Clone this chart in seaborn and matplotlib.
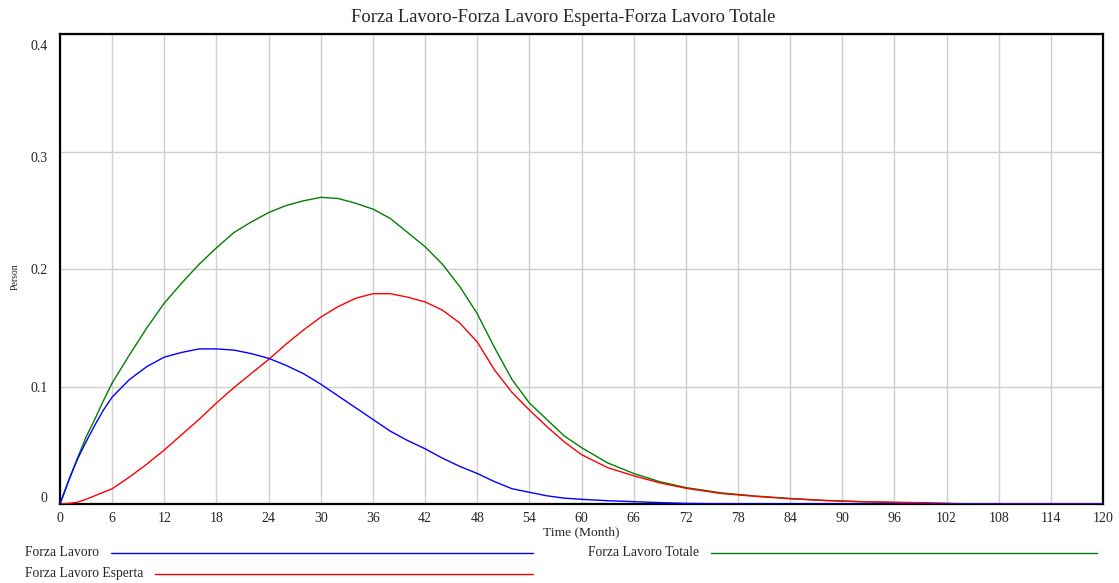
import matplotlib
matplotlib.use("Agg")
import matplotlib.pyplot as plt
import matplotlib.transforms as mtransforms
from matplotlib.lines import Line2D
import numpy as np
import pandas as pd
import seaborn as sns

# --- Data ---
MONTHS = [0, 1, 2, 3, 4, 5, 6, 8, 10, 12, 14, 16, 18, 20, 22, 24, 26, 28, 30,
          32, 34, 36, 38, 40, 42, 44, 46, 48, 50, 52, 54, 56, 58, 60, 63, 66,
          69, 72, 76, 80, 84, 88, 92, 96, 100, 104, 110, 120]

FORZA_LAVORO = [0, 0.020, 0.038, 0.053, 0.067, 0.080, 0.091, 0.106, 0.117,
                0.125, 0.129, 0.132, 0.132, 0.131, 0.128, 0.124, 0.118, 0.111,
                0.102, 0.092, 0.082, 0.072, 0.062, 0.054, 0.047, 0.039, 0.032,
                0.026, 0.019, 0.013, 0.010, 0.007, 0.005, 0.004, 0.0028, 0.002,
                0.0012, 0.0005, 0.0002, 0, 0, 0, 0, 0, 0, 0, 0, 0]

FORZA_LAVORO_ESPERTA = [0, 0.0005, 0.0015, 0.004, 0.007, 0.010, 0.013, 0.023,
                        0.034, 0.046, 0.059, 0.072, 0.086, 0.099, 0.111, 0.123,
                        0.136, 0.148, 0.159, 0.168, 0.175, 0.179, 0.179, 0.176,
                        0.172, 0.165, 0.154, 0.138, 0.114, 0.095, 0.080, 0.066,
                        0.053, 0.042, 0.031, 0.024, 0.018, 0.0134, 0.009, 0.0065,
                        0.0045, 0.003, 0.002, 0.0015, 0.001, 0, 0, 0]

FORZA_LAVORO_TOTALE = [0, 0.020, 0.039, 0.057, 0.072, 0.088, 0.103, 0.127,
                       0.150, 0.171, 0.188, 0.204, 0.218, 0.231, 0.240, 0.248,
                       0.254, 0.258, 0.261, 0.260, 0.256, 0.251, 0.243, 0.231,
                       0.219, 0.204, 0.185, 0.162, 0.133, 0.106, 0.086, 0.072,
                       0.058, 0.048, 0.035, 0.026, 0.019, 0.014, 0.0095, 0.0068,
                       0.0047, 0.003, 0.002, 0.0012, 0.0006, 0.0003, 0, 0]

SERIES = ["Forza Lavoro", "Forza Lavoro Esperta", "Forza Lavoro Totale"]
COLORS = {"Forza Lavoro": "#0000FF", "Forza Lavoro Esperta": "#FF0000",
          "Forza Lavoro Totale": "#008000"}

df = pd.DataFrame({
    "month": MONTHS * 3,
    "value": FORZA_LAVORO + FORZA_LAVORO_ESPERTA + FORZA_LAVORO_TOTALE,
    "series": [s for s in SERIES for _ in MONTHS],
})

# --- Style ---
sns.set_style("white")
plt.rcParams["font.family"] = ["Liberation Serif", "DejaVu Serif"]

W, H = 1119, 583
fig = plt.figure(figsize=(W / 100, H / 100), dpi=100)
ax = fig.add_axes([60 / W, 1 - 504 / H, (1103 - 60) / W, (504 - 34) / H])

# draw green first, blue last (blue sits on top)
for i, name in enumerate(["Forza Lavoro Totale", "Forza Lavoro Esperta", "Forza Lavoro"]):
    sns.lineplot(data=df[df["series"] == name], x="month", y="value",
                 color=COLORS[name], linewidth=1.0, ax=ax, legend=False,
                 zorder=3 + i)

ax.set_xlim(0, 120)
ax.set_ylim(0, 0.4)
ax.set_xticks(np.arange(0, 121, 6))
ax.set_yticks([0, 0.1, 0.2, 0.3, 0.4])
ax.set_yticklabels(["0", "0.1", "0.2", "0.3", "0.4"])
ax.grid(True, color="#cfcfcf", linewidth=1.0, zorder=0)
ax.set_axisbelow(True)
ax.tick_params(axis="both", length=0, labelsize=10)
ax.tick_params(axis="x", pad=6)
ax.tick_params(axis="y", pad=9)
for sp in ax.spines.values():
    sp.set_visible(True)
    sp.set_color("black")
    sp.set_linewidth(1.6)

# Vensim-style uneven label placement on the y axis (pixels, + = down)
y_shift = [-7, 1, 0, 5, 11]
for lab, dy in zip(ax.get_yticklabels(), y_shift):
    off = mtransforms.ScaledTranslation(0, -dy / 100, fig.dpi_scale_trans)
    lab.set_transform(lab.get_transform() + off)

ax.set_xlabel("Time (Month)", fontsize=9.7, labelpad=1)
ax.set_ylabel("")
fig.text(15 / W, 1 - 277 / H, "Person", rotation=90, fontsize=7,
         ha="center", va="center")

fig.text(563 / W, 1 - 17 / H,
         "Forza Lavoro-Forza Lavoro Esperta-Forza Lavoro Totale",
         fontsize=13.3, ha="center", va="center")

# --- Legend below the plot (text, then a line reaching a fixed end) ---
legend_rows = [("Forza Lavoro", 25, 533, 553),
               ("Forza Lavoro Esperta", 25, 533, 574),
               ("Forza Lavoro Totale", 588, 1097, 553)]
renderer = fig.canvas.get_renderer()
for name, x0, x1, yy in legend_rows:
    t = fig.text(x0 / W, 1 - yy / H, name, fontsize=9.8, ha="left", va="center")
    bb = t.get_window_extent(renderer=renderer)
    fig.add_artist(Line2D([(bb.x1 + 12) / W, x1 / W], [1 - yy / H, 1 - yy / H],
                          color=COLORS[name], linewidth=1.0,
                          transform=fig.transFigure))

fig.savefig("out.png", dpi=100, facecolor="white")
